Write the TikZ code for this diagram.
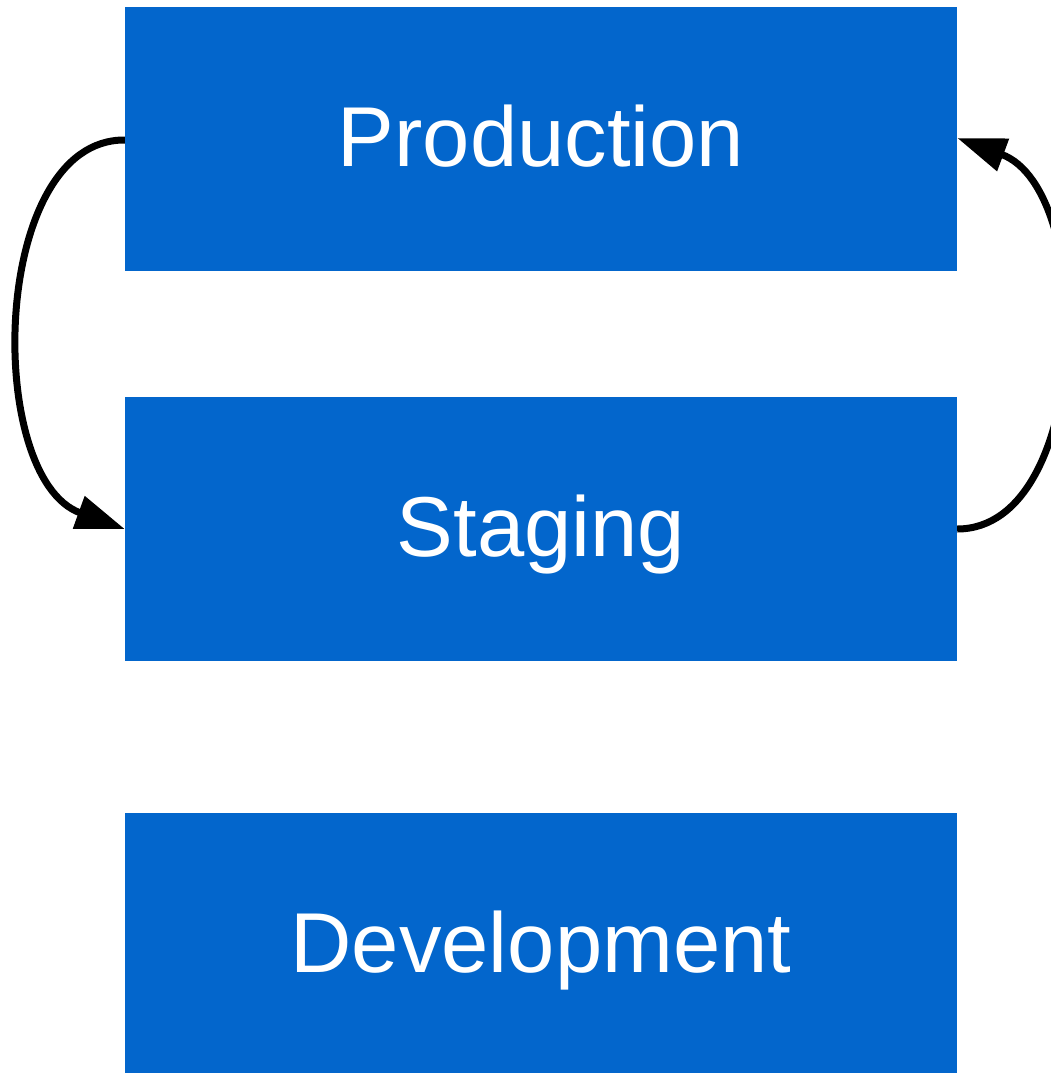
\documentclass[tikz,border=0pt]{standalone}
\usepackage{fontspec}
\setmainfont{Liberation Sans}
\usetikzlibrary{arrows.meta}
\definecolor{boxblue}{HTML}{0366CC}
\begin{document}
\begin{tikzpicture}[x=1pt,y=-1pt,
  envbox/.style={fill=boxblue,draw=none,minimum width=832pt,minimum height=264pt,
    inner sep=0pt,text height=54pt,text depth=0pt,text=white,font=\fontsize{85}{90}\selectfont},
  flow/.style={line width=7pt,draw=black,-{Triangle[length=49pt,width=33pt]}}]
  \useasboundingbox (0,0) rectangle (1051,1073);
  \clip (0,0) rectangle (1051,1073);
  \node[envbox] (prod) at (541,139) {Production};
  \node[envbox] (stag) at (541,529) {Staging};
  \node[envbox] (dev) at (541,945) {Development};
  \draw[flow] ([yshift=-1pt]prod.west) .. controls (-10,139) and (-16,478) .. (stag.west);
  \draw[flow] (stag.east) .. controls (1092,529) and (1098,190) .. ([yshift=1pt]prod.east);
\end{tikzpicture}
\end{document}
